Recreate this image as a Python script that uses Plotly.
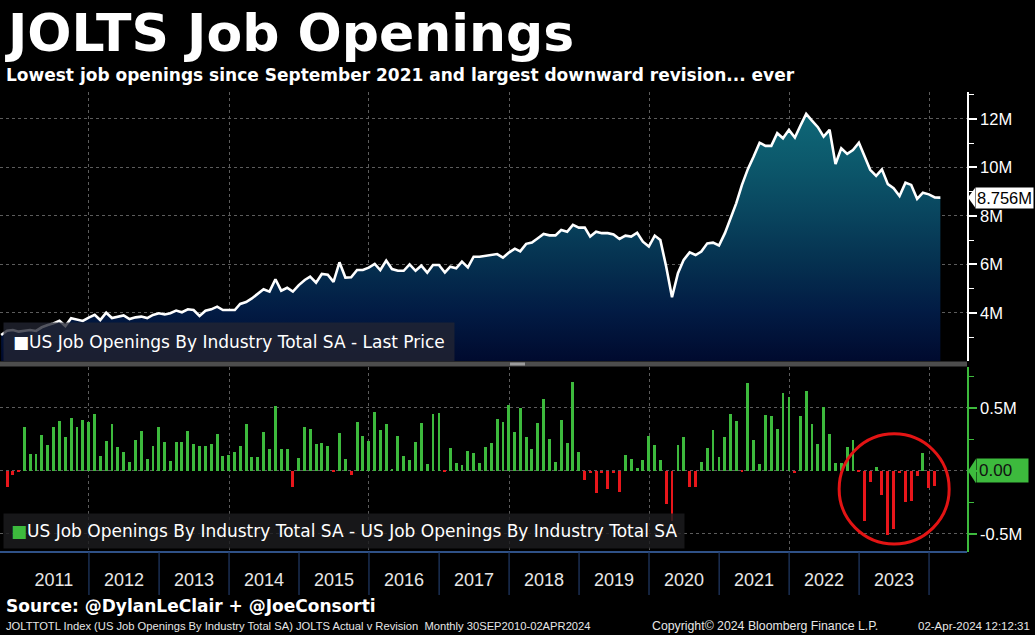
import pandas as pd
import plotly.graph_objects as go

# ---------------- data ----------------
start_month = "2010-09-01"
n_months = 162  # Sep 2010 .. Feb 2024
dates = pd.date_range(start_month, periods=n_months, freq="MS") + pd.offsets.MonthEnd(0)

openings_2010 = [3.09, 3.27, 3.30, 3.23]
openings_2011 = [3.27, 3.30, 3.26, 3.41, 3.50, 3.57, 3.68, 3.46, 3.78, 3.71, 3.67, 3.81]
openings_2012 = [3.92, 3.71, 4.01, 3.79, 3.85, 3.90, 3.75, 3.82, 3.85, 3.79, 3.92, 3.99]
openings_2013 = [3.94, 3.99, 4.10, 4.03, 4.15, 4.12, 3.88, 4.09, 4.15, 4.26, 4.12, 4.12]
openings_2014 = [4.12, 4.37, 4.45, 4.60, 4.78, 4.98, 4.88, 5.39, 4.92, 5.04, 4.88, 5.15]
openings_2015 = [5.36, 5.50, 5.25, 5.61, 5.58, 5.28, 6.09, 5.46, 5.47, 5.77, 5.77, 5.87]
openings_2016 = [6.02, 5.77, 6.16, 5.81, 5.74, 5.74, 6.00, 5.74, 5.95, 5.66, 5.98, 5.98]
openings_2017 = [5.67, 5.91, 5.84, 6.12, 5.88, 6.32, 6.32, 6.35, 6.39, 6.43, 6.28, 6.49]
openings_2018 = [6.65, 6.54, 6.85, 6.90, 7.08, 7.26, 7.20, 7.20, 7.42, 7.35, 7.63, 7.52]
openings_2019 = [7.52, 7.15, 7.35, 7.29, 7.29, 7.24, 7.05, 7.19, 7.15, 7.31, 6.94, 6.74]
openings_2020 = [7.19, 7.01, 5.90, 4.65, 5.64, 6.19, 6.50, 6.39, 6.53, 6.87, 6.90, 6.78]
openings_2021 = [7.29, 7.84, 8.52, 9.28, 9.94, 10.45, 11.02, 10.89, 10.89, 11.41, 11.20, 11.55]
openings_2022 = [11.23, 11.71, 12.21, 11.93, 11.66, 11.27, 11.55, 10.14, 10.79, 10.56, 10.72, 11.02]
openings_2023 = [10.45, 9.90, 9.65, 9.92, 9.31, 9.14, 8.82, 9.37, 9.28, 8.70, 8.96, 8.89]
openings_2024 = [8.76, 8.756]

revision_2010 = [None, -0.13, -0.035, -0.005]
revision_2011 = [0.347, 0.138, 0.138, 0.288, 0.209, 0.352, 0.40, 0.272, 0.423, 0.352, 0.407, 0.392]
revision_2012 = [0.455, 0.122, 0.241, 0.376, 0.193, 0.153, 0.074, 0.249, 0.32, 0.098, 0.201, 0.352]
revision_2013 = [0.233, 0.082, 0.233, 0.233, 0.32, 0.217, 0.201, 0.201, 0.217, 0.296, 0.122, 0.13]
revision_2014 = [0.153, 0.201, 0.376, 0.114, 0.114, 0.312, 0.177, 0.519, 0.177, 0.177, -0.127, 0.106]
revision_2015 = [0.352, 0.336, 0.217, 0.225, 0.201, -0.005, 0.304, 0.098, -0.034, 0.392, 0.28, 0.241]
revision_2016 = [0.471, 0.328, 0.376, 0.019, 0.28, 0.122, 0.09, 0.233, 0.384, 0.058, 0.455, 0.463]
revision_2017 = [-0.005, 0.185, 0.066, 0.05, 0.161, 0.146, 0.066, 0.193, 0.225, 0.415, 0.392, 0.526]
revision_2018 = [0.312, 0.503, 0.272, 0.177, 0.384, 0.574, 0.257, 0.071, 0.407, 0.225, 0.709, 0.153]
revision_2019 = [-0.074, -0.02, -0.175, -0.02, -0.146, -0.02, -0.17, 0.13, 0.098, 0.026, 0.09, 0.28]
revision_2020 = [0.209, 0.09, -0.262, -0.40, 0.204, 0.272, -0.124, -0.124, 0.074, 0.185, 0.328, 0.114]
revision_2021 = [0.272, 0.455, 0.40, -0.004, 0.70, 0.249, 0.058, 0.447, 0.439, 0.336, 0.622, 0.59]
revision_2022 = [-0.02, 0.439, 0.638, 0.376, 0.217, 0.511, 0.296, 0.066, 0.066, 0.193, 0.249, -0.005]
revision_2023 = [-0.40, -0.085, 0.034, -0.193, -0.508, -0.458, -0.02, -0.249, -0.24, -0.042, 0.146, -0.132]
revision_2024 = [-0.116, None]

openings = (openings_2010 + openings_2011 + openings_2012 + openings_2013 + openings_2014
            + openings_2015 + openings_2016 + openings_2017 + openings_2018 + openings_2019
            + openings_2020 + openings_2021 + openings_2022 + openings_2023 + openings_2024)
revisions = (revision_2010 + revision_2011 + revision_2012 + revision_2013 + revision_2014
             + revision_2015 + revision_2016 + revision_2017 + revision_2018 + revision_2019
             + revision_2020 + revision_2021 + revision_2022 + revision_2023 + revision_2024)

year_labels = [str(y) for y in range(2011, 2024)]
year_label_pos = [f"{y}-07-02" for y in range(2011, 2024)]
grid_years = [f"{y}-01-01" for y in range(2012, 2025, 2)]
divider_years = [f"{y}-01-01" for y in range(2012, 2025)]
last_value_label = "8.756M"

# ---------------- styling ----------------
GREEN = "#3dba3d"
RED = "#e8161b"
GRID = "#5c5c5c"
NARROW = "Liberation Sans, Arial, sans-serif"
BOLD = "DejaVu Sans, Verdana, sans-serif"

W, H = 1035, 635
ML, MR, MT, MB = 0, 68, 92, 83
PW = W - ML - MR
PH = H - MT - MB


def px_x(px):
    return (px - ML) / PW


def px_y(py):
    return (H - MB - py) / PH


fig = go.Figure()

fig.add_trace(go.Scatter(
    x=dates, y=openings, mode="lines",
    line=dict(color="white", width=2.6),
    fill="tozeroy",
    fillgradient=dict(type="vertical", start=2.0, stop=12.3,
                      colorscale=[[0, "#000a2e"], [0.2, "#021b44"], [0.4, "#053150"],
                                  [0.6, "#09465f"], [0.8, "#0c596c"], [1, "#0f6878"]]),
    xaxis="x", yaxis="y", hoverinfo="skip", showlegend=False,
))

fig.add_trace(go.Bar(
    x=dates, y=revisions,
    marker=dict(color=[GREEN if (v is not None and v >= 0) else RED for v in revisions],
                line=dict(width=0)),
    width=15 * 24 * 3600 * 1000,
    xaxis="x2", yaxis="y2", hoverinfo="skip", showlegend=False,
))

x_range = ["2010-09-24", "2024-07-17"]
top_dom = [px_y(361), 1.0]
bot_dom = [0.0, px_y(367)]

fig.update_layout(
    width=W, height=H,
    margin=dict(l=ML, r=MR, t=MT, b=MB),
    paper_bgcolor="black", plot_bgcolor="black",
    hovermode=False, bargap=0,
    xaxis=dict(domain=[0, 1], anchor="y", range=x_range, type="date",
               tickmode="array", tickvals=grid_years, showticklabels=False, ticks="",
               showgrid=True, gridcolor=GRID, griddash="dot", gridwidth=1,
               zeroline=False, showline=False),
    xaxis2=dict(domain=[0, 1], anchor="y2", range=x_range, type="date", matches="x",
                tickmode="array", tickvals=year_label_pos, ticktext=year_labels,
                ticks="", showgrid=False, zeroline=False, showline=False,
                tickfont=dict(family=NARROW, size=18, color="#e6e6e6"),
                ticklabelstandoff=15,
                minor=dict(tickmode="array", tickvals=grid_years, showgrid=True,
                           gridcolor=GRID, griddash="dot", gridwidth=1, ticks="")),
    yaxis=dict(domain=top_dom, anchor="x", side="right", range=[2.02, 13.11],
               tickmode="linear", tick0=0, dtick=2, ticksuffix="M",
               ticks="outside", ticklen=8, tickwidth=2, tickcolor="white",
               showline=True, linecolor="white", linewidth=1.5,
               showgrid=True, gridcolor=GRID, griddash="dot", gridwidth=1,
               zeroline=False,
               tickfont=dict(family=NARROW, size=16.5, color="white"),
               minor=dict(dtick=1, tick0=0, ticks="outside", ticklen=5,
                          tickcolor="white", tickwidth=1, showgrid=False)),
    yaxis2=dict(domain=bot_dom, anchor="x2", side="right", range=[-0.643, 0.825],
                tickmode="array", tickvals=[-0.5, 0, 0.5], ticktext=["-0.5M", "", "0.5M"],
                ticks="outside", ticklen=8, tickwidth=2, tickcolor=GREEN,
                showline=True, linecolor=GREEN, linewidth=1.5,
                showgrid=True, gridcolor=GRID, griddash="dot", gridwidth=1,
                zeroline=False,
                tickfont=dict(family=NARROW, size=16.5, color="white"),
                minor=dict(tickmode="array", tickvals=[-0.25, 0.25, 0.75], ticks="outside",
                           ticklen=5, tickcolor=GREEN, tickwidth=1, showgrid=False)),
)

shapes = []
# panel separator
shapes.append(dict(type="rect", xref="paper", yref="paper", x0=0, x1=1,
                   y0=px_y(366.5), y1=px_y(361.5), fillcolor="#4d4d4d", line=dict(width=0)))
shapes.append(dict(type="rect", xref="paper", yref="paper", x0=px_x(510), x1=px_x(525),
                   y0=px_y(365.5), y1=px_y(362.5), fillcolor="#9c9c9c", line=dict(width=0)))
# bottom axis line
shapes.append(dict(type="line", xref="paper", yref="paper", x0=0, x1=1, y0=0, y1=0,
                   line=dict(color="#3f6db5", width=1.5)))
# year dividers
for d in divider_years:
    shapes.append(dict(type="line", xref="x2", yref="paper", x0=d, x1=d,
                       y0=px_y(595), y1=0, line=dict(color="#213a66", width=1.2)))
# last value arrow (top)
shapes.append(dict(type="path", xref="paper", yref="y",
                   path=f"M {px_x(968)},{openings[-1]} L {px_x(975)},{openings[-1] + 0.40} "
                        f"L {px_x(975)},{openings[-1] - 0.40} Z",
                   fillcolor="white", line=dict(width=0)))
# zero arrow (bottom)
shapes.append(dict(type="path", xref="paper", yref="y2",
                   path=f"M {px_x(968)},0 L {px_x(976)},0.097 L {px_x(976)},-0.097 Z",
                   fillcolor=GREEN, line=dict(width=0)))
# red circle highlight
shapes.append(dict(type="circle", xref="x2", yref="y2",
                   x0="2022-09-19", x1="2024-04-15", y0=-0.58, y1=0.295,
                   line=dict(color="#e31414", width=3)))
fig.update_layout(shapes=shapes)

ann = []
ann.append(dict(text="<b>JOLTS Job Openings</b>", xref="paper", yref="paper",
                x=px_x(3), y=px_y(33), xanchor="left", yanchor="middle", showarrow=False,
                font=dict(family=BOLD, size=52, color="white")))
ann.append(dict(text="<b>Lowest job openings since September 2021 and largest downward revision... ever</b>",
                xref="paper", yref="paper", x=px_x(4), y=px_y(75), xanchor="left",
                yanchor="middle", showarrow=False, font=dict(family=BOLD, size=17, color="white")))
ann.append(dict(text="<b>Source: @DylanLeClair + @JoeConsorti</b>", xref="paper", yref="paper",
                x=px_x(4), y=px_y(606), xanchor="left", yanchor="middle", showarrow=False,
                font=dict(family=BOLD, size=17, color="white")))
ann.append(dict(text="JOLTTOTL Index (US Job Openings By Industry Total SA) JOLTS Actual v Revision  Monthly 30SEP2010-02APR2024",
                xref="paper", yref="paper", x=px_x(4), y=px_y(626), xanchor="left",
                yanchor="middle", showarrow=False, font=dict(family=NARROW, size=11.2, color="#e6e6e6")))
ann.append(dict(text="Copyright© 2024 Bloomberg Finance L.P.", xref="paper", yref="paper",
                x=px_x(650), y=px_y(626), xanchor="left", yanchor="middle", showarrow=False,
                font=dict(family=NARROW, size=12.3, color="#e6e6e6")))
ann.append(dict(text="02-Apr-2024 12:12:31", xref="paper", yref="paper",
                x=px_x(1032), y=px_y(626), xanchor="right", yanchor="middle", showarrow=False,
                font=dict(family=NARROW, size=11.5, color="#e6e6e6")))
# legends
ann.append(dict(text='<span style="color:white">■</span>US Job Openings By Industry Total SA - Last Price',
                xref="paper", yref="paper", x=px_x(3), y=px_y(341.5), xanchor="left",
                yanchor="middle", showarrow=False, bgcolor="rgba(34,37,50,0.78)", borderpad=9,
                font=dict(family="DejaVu Sans, sans-serif", size=17, color="white")))
ann.append(dict(text=f'<span style="color:{GREEN}">■</span>US Job Openings By Industry Total SA - US Job Openings By Industry Total SA',
                xref="paper", yref="paper", x=px_x(3), y=px_y(531), xanchor="left",
                yanchor="middle", showarrow=False, bgcolor="rgba(28,28,30,0.82)", borderpad=7,
                font=dict(family="DejaVu Sans, sans-serif", size=17, color="white")))
# value boxes
ann.append(dict(text=last_value_label, xref="paper", yref="y", x=px_x(975), y=openings[-1],
                xanchor="left", yanchor="middle", showarrow=False, bgcolor="white", borderpad=1,
                font=dict(family=NARROW, size=16.5, color="black")))
ann.append(dict(text="0.00 &nbsp; ", xref="paper", yref="y2", x=px_x(975.5), y=0,
                xanchor="left", yanchor="middle", showarrow=False, bgcolor=GREEN, borderpad=2,
                font=dict(family=NARROW, size=17, color="#111111")))
fig.update_layout(annotations=ann)

fig.write_html("out.html", config={"displayModeBar": False},
               post_script="document.body.style.margin='0px';document.body.style.overflow='hidden';")
